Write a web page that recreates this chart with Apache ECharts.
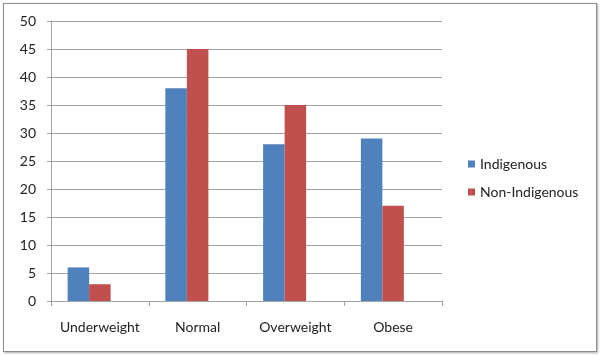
<!DOCTYPE html>
<html><head><meta charset="utf-8">
<script src="https://cdn.jsdelivr.net/npm/echarts@6/dist/echarts.min.js"></script>
<style>html,body{margin:0;padding:0;background:#fff;}
#frame{position:absolute;left:3px;top:3px;width:592px;height:347px;border:1px solid #8c8c8c;box-shadow:1px 1px 2px #aaa;}
#c{position:absolute;left:0;top:0;width:600px;height:355px;}</style>
</head><body><div id="frame"></div><div id="c"></div>
<script>
const categories = ['Underweight', 'Normal', 'Overweight', 'Obese'];
const indigenous = [6, 38, 28, 29];
const nonIndigenous = [3, 45, 35, 17];
const placeholder = [null, null, null, null]; // empty slot series (as in the source chart)
const yTicks = [0, 5, 10, 15, 20, 25, 30, 35, 40, 45, 50];

const chart = echarts.init(document.getElementById('c'));
const font = 'Lato, "Open Sans", sans-serif';
const grey = '#a3a3a3';
chart.setOption({
  animation: false,
  textStyle: {fontFamily: font},
  grid: {left: 51, top: 21, right: 158, bottom: 54, containLabel: false},
  legend: {
    orient: 'vertical', left: 468, top: 157, padding: 0, itemWidth: 7, itemHeight: 7, itemGap: 14,
    icon: 'rect', textStyle: {fontSize: 14, color: '#222', fontFamily: font},
    data: ['Indigenous', 'Non-Indigenous']
  },
  xAxis: {
    type: 'category', data: categories,
    axisLine: {lineStyle: {color: grey}},
    axisTick: {show: true, length: 5, lineStyle: {color: grey}},
    axisLabel: {interval: 0, hideOverlap: false, fontSize: 14, color: '#222', margin: 19, fontFamily: font}
  },
  yAxis: {
    type: 'value', min: yTicks[0], max: yTicks[yTicks.length - 1], interval: 5,
    axisLine: {show: true, lineStyle: {color: grey}},
    axisTick: {show: true, length: 4, lineStyle: {color: grey}},
    splitLine: {lineStyle: {color: grey}},
    axisLabel: {fontSize: 14, color: '#222', margin: 15, fontFamily: font}
  },
  series: [
    {name: 'Indigenous', type: 'bar', data: indigenous, itemStyle: {color: '#4F81BD'}, barGap: '0%', barCategoryGap: '34%'},
    {name: 'Non-Indigenous', type: 'bar', data: nonIndigenous, itemStyle: {color: '#C0504D'}},
    {name: 'blank', type: 'bar', data: placeholder, itemStyle: {color: 'transparent'}}
  ]
});
</script></body></html>
